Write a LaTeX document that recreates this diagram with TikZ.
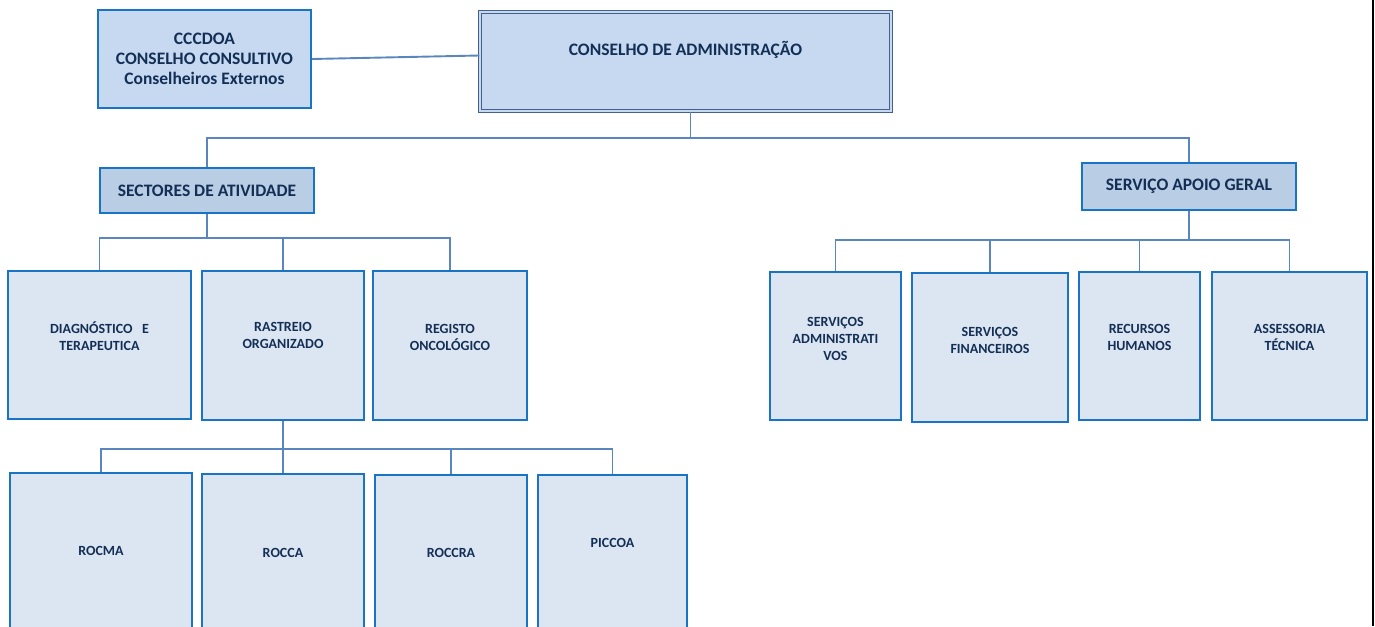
\documentclass[tikz,border=0pt]{standalone}
\usepackage{fontspec}
\setmainfont{Carlito}
\usetikzlibrary{calc}

\definecolor{boxline}{HTML}{1A74C4}
\definecolor{linkblue}{HTML}{5A86C0}
\definecolor{unitfill}{HTML}{DCE6F2}
\definecolor{headfill}{HTML}{B9CDE5}
\definecolor{topfill}{HTML}{C6D9F1}
\definecolor{caline}{HTML}{44608C}
\definecolor{txtnavy}{HTML}{142F55}

\begin{document}
\begin{tikzpicture}[x=1pt,y=-1pt,
   boxdim/.style 2 args={minimum width=#1pt,minimum height=#2pt},
   unit/.style={draw=boxline,line width=2.4pt,fill=unitfill,inner sep=0pt},
   head/.style={unit,fill=headfill,text=txtnavy,font=\bfseries\fontsize{17.5}{20}\selectfont},
   top/.style={head,fill=topfill,align=center},
   unittxt/.style={text=txtnavy,font=\bfseries\fontsize{14}{17}\selectfont,align=center,inner sep=0pt},
   link/.style={draw=linkblue,line width=1.9pt}]
  \useasboundingbox (0,0) rectangle (1375,626);

  % top level
  \node[top,boxdim={213}{98}] (cccdoa) at (204.5,59)
     {CCCDOA\\CONSELHO CONSULTIVO\\Conselheiros Externos};
  \node[draw=caline,double=topfill,double distance=2.2pt,line width=1.2pt,
        fill=topfill,boxdim={411}{99}] (ca) at (685.5,61.5) {};
  \node[text=txtnavy,font=\bfseries\fontsize{17.5}{20}\selectfont,inner sep=0pt]
     (ca-txt) at ([yshift=12]ca.center) {CONSELHO DE ADMINISTRAÇÃO};

  % second level
  \node[head,boxdim={214}{45}] (sect) at (207,190.5) {SECTORES DE ATIVIDADE};
  \node[head,boxdim={214}{47}] (sag) at (1189,186.5) {SERVIÇO APOIO GERAL};

  % sectores de atividade
  \node[unit,boxdim={183}{148}] (dt) at (99.5,345) {};
  \node[unit,boxdim={162}{149}] (ro) at (283,345.5) {};
  \node[unit,boxdim={154}{149}] (rego) at (450,345.5) {};
  \node[unittxt] (dt-txt) at ([yshift=8.5]dt.center) {DIAGNÓSTICO\ \ \ E\\TERAPEUTICA};
  \node[unittxt] (ro-txt) at ([yshift=10]ro.center) {RASTREIO\\ORGANIZADO};
  \node[unittxt] (rego-txt) at ([yshift=8.5]rego.center) {REGISTO\\ONCOLÓGICO};

  % rastreio organizado
  \node[unit,boxdim={182}{160}] (rocma) at (101,553) {};
  \node[unit,boxdim={162}{160}] (rocca) at (283,554) {};
  \node[unit,boxdim={152}{160}] (roccra) at (451,555) {};
  \node[unit,boxdim={149}{160}] (piccoa) at (612.5,555) {};
  \node[unittxt] (rocma-txt) at ([yshift=2]rocma.center) {ROCMA};
  \node[unittxt] (rocca-txt) at ([yshift=1]rocca.center) {ROCCA};
  \node[unittxt] (roccra-txt) at ([yshift=2]roccra.center) {ROCCRA};
  \node[unittxt] (piccoa-txt) at ([yshift=12]piccoa.center) {PICCOA};

  % servico apoio geral
  \node[unit,boxdim={131}{148}] (sa) at (835.5,346) {};
  \node[unit,boxdim={156}{149}] (sf) at (990,347.5) {};
  \node[unit,boxdim={121}{148}] (rh) at (1139.5,346) {};
  \node[unit,boxdim={155}{148}] (at) at (1289.5,346) {};
  \node[unittxt] (sa-txt) at ([yshift=7.5]sa.center) {SERVIÇOS\\ADMINISTRATI\\VOS};
  \node[unittxt] (sf-txt) at ([yshift=7]sf.center) {SERVIÇOS\\FINANCEIROS};
  \node[unittxt] (rh-txt) at ([yshift=8.5]rh.center) {RECURSOS\\HUMANOS};
  \node[unittxt] (at-txt) at ([yshift=8.5]at.center) {ASSESSORIA\\TÉCNICA};

  % connectors
  \draw[link] (cccdoa.east) -- ([yshift=6]ca.west);
  \draw[link] ([xshift=5]ca.south) -- ++(0,26) coordinate (bus0);
  \draw[link] (sect.north) |- (bus0) -| (sag.north);

  \draw[link] (sect.south) -- ++(0,24) coordinate (bus1);
  \draw[link] (dt.north) |- (bus1) -| (rego.north);
  \draw[link] (bus1 -| ro.north) -- (ro.north);

  \draw[link] (ro.south) -- ++(0,28) coordinate (bus2);
  \draw[link] (rocma.north) |- (bus2) -| (piccoa.north);
  \draw[link] (bus2 -| roccra.north) -- (roccra.north);
  \draw[link] (bus2) -- (rocca.north);

  \draw[link] (sag.south) -- ++(0,29) coordinate (bus3);
  \draw[link] (sa.north) |- (bus3) -| (at.north);
  \foreach \n in {sf,rh}
    \draw[link] (bus3 -| \n.north) -- (\n.north);

  % page edge
  \draw[line width=2.5pt] (1373,0) -- (1373,626);
\end{tikzpicture}
\end{document}
